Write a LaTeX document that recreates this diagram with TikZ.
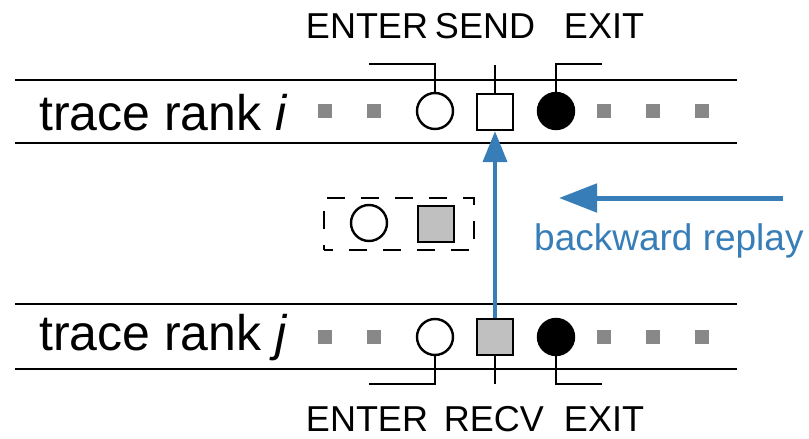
\documentclass[tikz,border=0pt]{standalone}
\usepackage{fontspec}
\setmainfont{Liberation Sans}
\usetikzlibrary{arrows.meta}
\definecolor{replayblue}{HTML}{377EB8}
\definecolor{dotgray}{HTML}{888888}
\definecolor{recvgray}{HTML}{C0C0C0}

\begin{document}
\begin{tikzpicture}[x=1pt,y=-1pt,
  band/.style={line width=2.6pt},
  evcircle/.style={circle, draw, line width=2.4pt, minimum size=36pt, inner sep=0pt, fill=white},
  evexit/.style={evcircle, fill=black},
  evbox/.style={rectangle, draw, line width=2.4pt, minimum size=36pt, inner sep=0pt, fill=white},
  evrecv/.style={evbox, fill=recvgray},
  tick/.style={rectangle, fill=dotgray, minimum size=14pt, inner sep=0pt},
  lead/.style={line width=2.4pt},
  lbl/.style={font=\fontsize{36}{40}\selectfont, inner sep=0pt, anchor=base},
  rank/.style={font=\fontsize{50}{56}\selectfont, inner sep=0pt, anchor=base west},
  replay/.style={draw=replayblue, line width=#1},
  replay/.default=4pt
]
\useasboundingbox (0,0) rectangle (809,439);

% ---- rank i (sender) ----
\coordinate (iTL) at (15,80);   \coordinate (iTR) at (737,80);
\coordinate (iBL) at (15,143);  \coordinate (iBR) at (737,143);
\draw[band] (iTL) -- (iTR);
\draw[band] (iBL) -- (iBR);
\node[rank] (rankI) at (39,130) {trace rank \textit{i}};

\node[tick] (ti1) at (325,111) {};
\node[tick] (ti2) at (374,111) {};
\node[tick] (ti3) at (604,111) {};
\node[tick] (ti4) at (653,111) {};
\node[tick] (ti5) at (702,111) {};

\node[evcircle] (enterI) at (435,111) {};
\node[evbox]    (sendI)  at (495,112) {};
\node[evexit]   (exitI)  at (556,111) {};

\coordinate (enterIend) at (369,64);
\coordinate (sendIend)  at (495,65);
\coordinate (exitIend)  at (602,64);
\draw[lead] (enterI.north) |- (enterIend);
\draw[lead] (sendI.north) -- (sendIend);
\draw[lead] (exitI.north) |- (exitIend);

\node[lbl] (enterIlbl) at (367,38) {ENTER};
\node[lbl] (sendIlbl)  at (485,38) {SEND};
\node[lbl] (exitIlbl)  at (604,38) {EXIT};

% ---- rank j (receiver) ----
\coordinate (jTL) at (15,304);  \coordinate (jTR) at (737,304);
\coordinate (jBL) at (15,369);  \coordinate (jBR) at (737,369);
\draw[band] (jTL) -- (jTR);
\draw[band] (jBL) -- (jBR);
\node[rank] (rankJ) at (39,350) {trace rank \textit{j}};

\node[tick] (tj1) at (325,337) {};
\node[tick] (tj2) at (374,337) {};
\node[tick] (tj3) at (604,337) {};
\node[tick] (tj4) at (653,337) {};
\node[tick] (tj5) at (702,337) {};

\node[evcircle] (enterJ) at (435,337) {};
\node[evrecv]   (recvJ)  at (495,337) {};
\node[evexit]   (exitJ)  at (556,337) {};

\coordinate (enterJend) at (369,384);
\coordinate (recvJend)  at (495,384);
\coordinate (exitJend)  at (602,384);
\draw[lead] (enterJ.south) |- (enterJend);
\draw[lead] (recvJ.south) -- (recvJend);
\draw[lead] (exitJ.south) |- (exitJend);

\node[lbl] (enterJlbl) at (367,431) {ENTER};
\node[lbl] (recvJlbl)  at (494,431) {RECV};
\node[lbl] (exitJlbl)  at (604,431) {EXIT};

% ---- pending receive pair between the ranks ----
\node[draw, line width=2.4pt, dash pattern=on 18pt off 16pt, dash phase=9pt,
      minimum width=150pt, minimum height=52pt, inner sep=0pt] (pending) at (399,224) {};
\node[evcircle] (pendEnter) at (369,223) {};
\node[evrecv]   (pendRecv)  at (436,224) {};

% ---- replay direction ----
\draw[replay, -{Triangle[length=31pt,width=24pt]}] (recvJ.north) -- (sendI.south);
\coordinate (replayStart) at (783,198);
\coordinate (replayEnd)   at (559,198);
\draw[replay=5pt, -{Triangle[length=38pt,width=28pt]}] (replayStart) -- (replayEnd);
\node[font=\fontsize{37}{40}\selectfont, text=replayblue, inner sep=0pt, anchor=base west]
  (replayLbl) at (534,250) {backward replay};
\end{tikzpicture}
\end{document}
